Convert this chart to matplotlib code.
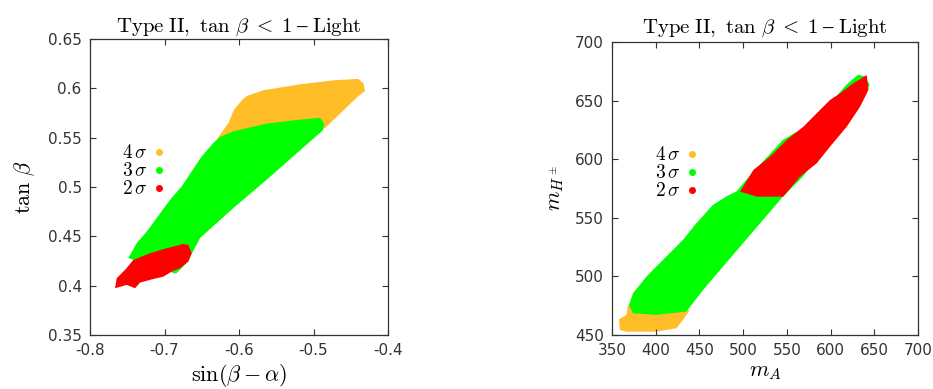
import matplotlib
matplotlib.use('Agg')
import matplotlib.pyplot as plt
from matplotlib.lines import Line2D

plt.rcParams['mathtext.fontset'] = 'cm'
plt.rcParams['axes.unicode_minus'] = False
plt.rcParams['font.family'] = ['DejaVu Sans']

# Colours of the confidence levels
C4 = '#ffbe28'
C3 = '#00ff00'
C2 = '#ff0000'

# Left panel: region outlines in (sin(beta-alpha), tan beta)
left_4s_x = [-0.630, -0.614, -0.607, -0.596, -0.590, -0.567, -0.518, -0.473, -0.440,
             -0.433, -0.431, -0.440, -0.484, -0.600]
left_4s_y = [0.548, 0.565, 0.578, 0.588, 0.592, 0.598, 0.604, 0.608, 0.6095,
             0.605, 0.597, 0.592, 0.560, 0.520]
left_3s_x = [-0.7485, -0.7373, -0.7239, -0.7104, -0.6925, -0.6768, -0.6634, -0.650,
             -0.6343, -0.6254, -0.6074, -0.5627, -0.5179, -0.491, -0.4856, -0.4874,
             -0.5179, -0.5627, -0.6074, -0.6522, -0.6701, -0.6845, -0.7194]
left_3s_y = [0.428, 0.443, 0.4547, 0.4686, 0.487, 0.5007, 0.5159, 0.531,
             0.5446, 0.5507, 0.5564, 0.5642, 0.5682, 0.570, 0.5642, 0.5574,
             0.5372, 0.5074, 0.4787, 0.4483, 0.423, 0.4122, 0.4196]
left_2s_x = [-0.7664, -0.7642, -0.753, -0.7419, -0.7195, -0.697, -0.6748, -0.668,
             -0.6635, -0.668, -0.6792, -0.6903, -0.7016, -0.7195, -0.7329, -0.7396,
             -0.7507]
left_2s_y = [0.3973, 0.4075, 0.4159, 0.426, 0.4328, 0.4379, 0.4422, 0.4412,
             0.4328, 0.4243, 0.4176, 0.4142, 0.4091, 0.4058, 0.403, 0.3973,
             0.4007]

# Right panel: region outlines in (m_A, m_H+-)
right_4s_x = [358.0, 366.4, 368.3, 374.0, 416.0, 438.8, 431.2, 423.6, 400.7, 366.4, 358.8]
right_4s_y = [463.4, 467.1, 475.6, 475.6, 471.4, 471.4, 462.8, 455.7, 452.8, 452.8, 454.3]
right_3s_x = [369.4, 374.0, 389.3, 400.7, 416.0, 431.2, 446.5, 465.5, 480.8, 492.2,
              503.6, 522.7, 545.6, 568.5, 591.3, 606.6, 618.0, 631.4, 639.0, 644.7,
              639.0, 614.2, 591.3, 568.5, 545.6, 522.7, 499.8, 477.0, 454.1, 435.0,
              400.7, 374.0]
right_3s_y = [475.6, 485.6, 499.8, 508.4, 519.8, 531.2, 545.4, 561.0, 568.2, 572.4,
              582.4, 598.1, 616.6, 626.5, 640.8, 653.6, 663.6, 672.1, 670.7, 663.6,
              653.6, 630.8, 608.0, 585.3, 568.2, 548.2, 528.3, 508.4, 488.4, 469.9,
              467.1, 468.5]
right_2s_x = [496.4, 511.6, 530.7, 549.8, 568.8, 584.1, 599.3, 610.8, 626.0, 641.3,
              643.2, 633.7, 618.4, 599.3, 584.1, 565.0, 545.9, 515.5]
right_2s_y = [572.3, 590.8, 602.1, 616.4, 627.7, 639.2, 650.5, 656.2, 664.8, 671.8,
              659.0, 644.8, 627.7, 610.7, 596.5, 585.1, 568.0, 568.0]

left_xticks = [-0.8, -0.7, -0.6, -0.5, -0.4]
left_yticks = [0.35, 0.4, 0.45, 0.5, 0.55, 0.6, 0.65]
right_xticks = [350, 400, 450, 500, 550, 600, 650, 700]
right_yticks = [450, 500, 550, 600, 650, 700]

title = r'$\mathrm{Type\ II,\ }\tan\,\beta\;<\;1\;\mathrm{–}\;\mathrm{Light}$'
sigma_labels = [r'$4\,\sigma$', r'$3\,\sigma$', r'$2\,\sigma$']

fig = plt.figure(figsize=(9.33, 3.89), dpi=100)
ax1 = fig.add_axes([0.0965, 0.139, 0.3194, 0.761])
ax2 = fig.add_axes([0.656, 0.139, 0.328, 0.753])


def style_axes(ax, xticks, yticks):
    ax.set_xticks(xticks)
    ax.set_yticks(yticks)
    ax.set_xlim(xticks[0], xticks[-1])
    ax.set_ylim(yticks[0], yticks[-1])
    ax.xaxis.set_major_formatter(plt.FuncFormatter(lambda v, p: f'{v:g}'))
    ax.yaxis.set_major_formatter(plt.FuncFormatter(lambda v, p: f'{v:g}'))
    ax.tick_params(direction='in', top=True, right=True, length=4, width=0.8,
                   color='#333333', labelsize=11, labelcolor='#333333', pad=6)
    for s in ax.spines.values():
        s.set_linewidth(0.9)
        s.set_color('#333333')
    return [Line2D([], [], ls='', marker='o', ms=4, color=c) for c in (C4, C3, C2)]


h = style_axes(ax1, left_xticks, left_yticks)
ax1.fill(left_4s_x, left_4s_y, color=C4, lw=0)
ax1.fill(left_3s_x, left_3s_y, color=C3, lw=0)
ax1.fill(left_2s_x, left_2s_y, color=C2, lw=0)
ax1.set_title(title, fontsize=15, pad=5)
ax1.set_xlabel(r'$\sin(\beta-\alpha)$', fontsize=16, labelpad=3)
ax1.set_ylabel(r'$\tan\,\beta$', fontsize=16, labelpad=8)
ax1.legend(h, sigma_labels, markerfirst=False,
           frameon=False, fontsize=14, loc='center', bbox_to_anchor=(0.18, 0.554),
           labelspacing=-0.05, handlelength=0.6, handletextpad=0.3, borderpad=0)

h = style_axes(ax2, right_xticks, right_yticks)
ax2.fill(right_4s_x, right_4s_y, color=C4, lw=0)
ax2.fill(right_3s_x, right_3s_y, color=C3, lw=0)
ax2.fill(right_2s_x, right_2s_y, color=C2, lw=0)
ax2.set_title(title, fontsize=15, pad=7)
ax2.set_xlabel(r'$m_A$', fontsize=16, labelpad=3)
ax2.set_ylabel(r'$m_{H^\pm}$', fontsize=16, labelpad=6)
ax2.legend(h, sigma_labels, markerfirst=False,
           frameon=False, fontsize=14, loc='center', bbox_to_anchor=(0.21, 0.553),
           labelspacing=-0.05, handlelength=0.6, handletextpad=0.3, borderpad=0)

fig.savefig('out.png', dpi=100)
